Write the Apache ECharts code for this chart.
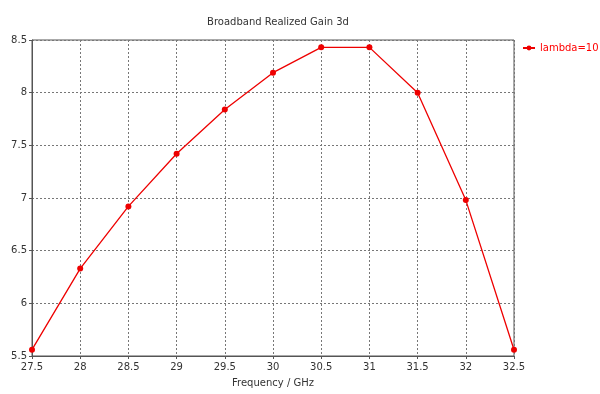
<!DOCTYPE html>
<html><head><meta charset="utf-8">
<script src="https://cdn.jsdelivr.net/npm/echarts@6/dist/echarts.min.js"></script>
<style>html,body{margin:0;padding:0;background:#fff;}#c{width:600px;height:394px;}</style>
</head><body><div id="c"></div>
<script>
const freqs = [27.5, 28, 28.5, 29, 29.5, 30, 30.5, 31, 31.5, 32, 32.5];
const gain = [5.56, 6.33, 6.92, 7.42, 7.84, 8.19, 8.43, 8.43, 8.00, 6.98, 5.56];
const seriesName = 'lambda=10';
const titleText = 'Broadband Realized Gain 3d';
const xName = 'Frequency / GHz';

const font = 'DejaVu Sans';
const chart = echarts.init(document.getElementById('c'), null, {renderer: 'canvas'});
chart.setOption({
  animation: false,
  backgroundColor: '#fff',
  title: {text: titleText, left: 273, top: 12, textAlign: 'center',
    textStyle: {fontFamily: font, fontSize: 10, fontWeight: 'normal', color: '#333'}},
  legend: {left: 522, top: 43, padding: 0, itemWidth: 12, itemHeight: 6, itemGap: 2,
    textStyle: {fontFamily: font, fontSize: 10, color: '#ff0000'},
    data: [seriesName]},
  grid: {left: 32, right: 86, top: 40, bottom: 38, show: true, borderColor: '#555', borderWidth: 1},
  xAxis: {type: 'value', min: 27.5, max: 32.5, interval: 0.5,
    name: xName, nameLocation: 'middle', nameGap: 22,
    nameTextStyle: {fontFamily: font, fontSize: 10, color: '#333'},
    axisLine: {lineStyle: {color: '#555'}},
    axisTick: {show: true, length: 3, lineStyle: {color: '#555'}},
    axisLabel: {fontFamily: font, fontSize: 10, color: '#333', margin: 6},
    splitLine: {show: true, lineStyle: {type: [2, 2], color: '#777'}}},
  yAxis: {type: 'value', min: 5.5, max: 8.5, interval: 0.5,
    axisLine: {show: true, lineStyle: {color: '#555'}},
    axisTick: {show: true, length: 3, lineStyle: {color: '#555'}},
    axisLabel: {fontFamily: font, fontSize: 10, color: '#333', margin: 5},
    splitLine: {show: true, lineStyle: {type: [2, 2], color: '#777'}}},
  series: [{name: seriesName, type: 'line', data: freqs.map((f, i) => [f, gain[i]]),
    symbol: 'circle', symbolSize: 6, clip: false,
    lineStyle: {color: '#ee0000', width: 1.3},
    itemStyle: {color: '#ee0000'}}]
});
</script></body></html>
